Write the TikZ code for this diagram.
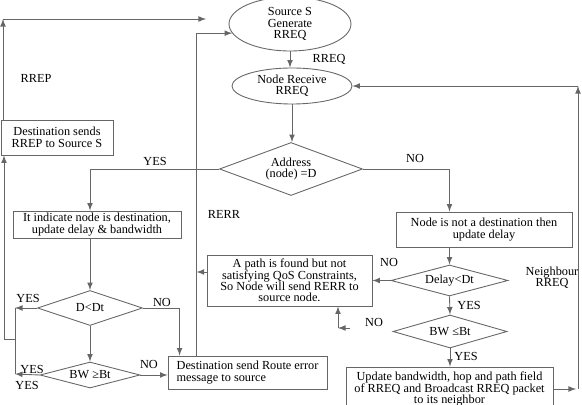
\documentclass[tikz,border=0pt]{standalone}
\usepackage{fontspec}
\setmainfont{Liberation Serif}
\usetikzlibrary{calc,arrows,shapes,positioning}

\begin{document}
\begin{tikzpicture}[x=0.02cm,y=-0.02cm]
\tikzstyle{ln}=[draw=black!60, line width=0.5pt]
\tikzstyle{arr}=[ln, -latex]
\tikzstyle{box}=[ln, rectangle, inner sep=0pt, align=center, font=\fontsize{7}{6.5}\selectfont]
\tikzstyle{ell}=[box, ellipse]
\tikzstyle{dmd}=[box, diamond]
\tikzstyle{lbl}=[inner sep=0pt, font=\fontsize{7}{6.5}\selectfont]

\useasboundingbox (0,0) rectangle (582,405);

% main column
\node[ell, minimum width=2.44cm, minimum height=1.08cm] (S) at (290,24) {Source S\\Generate\\RREQ};
\node[ell, minimum width=2.4cm, minimum height=0.72cm] (R) at (292,86) {Node Receive\\RREQ};
\node[dmd, shape aspect=2.7, minimum width=2.86cm, minimum height=1.06cm] (A) at (291,169) {Address\\(node) =D};

% left branch
\node[box, minimum width=3.36cm, minimum height=0.54cm] (D) at (97,224.5) {It indicate node is destination,\\update delay \& bandwidth};
\node[dmd, shape aspect=3, minimum width=2.1cm, minimum height=0.7cm] (DT) at (90,308) {D<Dt};
\node[dmd, shape aspect=3.8, minimum width=2.0cm, minimum height=0.52cm] (BG) at (90,375) {BW ≥Bt};
\node[box, align=left, minimum width=3.18cm, minimum height=0.66cm] (E) at (247.5,372.5) {Destination send Route error\\message to source};
\node[box, minimum width=2.24cm, minimum height=0.7cm] (P) at (57,137.5) {Destination sends\\RREP to Source S};

% right branch
\node[box, minimum width=3.52cm, minimum height=0.7cm] (N) at (484,229.5) {Node is not a destination then\\update delay};
\node[dmd, shape aspect=3.8, minimum width=2.34cm, minimum height=0.62cm] (DL) at (449.5,280.5) {Delay<Dt};
\node[box, minimum width=3.3cm, minimum height=1.02cm] (Q) at (289.5,280.5) {A path is found but not\\satisfying QoS Constraints,\\So Node will send RERR to\\source node.};
\node[dmd, shape aspect=3.5, minimum width=2.28cm, minimum height=0.66cm] (BL) at (450,331.5) {BW ≤Bt};
\node[box, minimum width=4.14cm, minimum height=0.88cm] (U) at (449.5,389) {Update bandwidth, hop and path field\\of RREQ and Broadcast RREQ packet\\to its neighbor};

% corners
\coordinate (t1) at (3,19);
\coordinate (t2) at (206,19);
\coordinate (j1) at (15,308);
\coordinate (j2) at (15,374);
\coordinate (j3) at (15,339);
\coordinate (j4) at (4,339);
\coordinate (n1) at (350,328);
\coordinate (n2) at (338,328);
\coordinate (m1) at (576,389);
\coordinate (m2) at (578,86);
\coordinate (rx) at ([xshift=0.58cm]E.north west);

\draw[arr] (S.south) -- (S.south |- R.north);
\draw[arr] (R.south) -- (R.south |- A.north);
\draw[arr] (A.west) -| (DT.north |- D.north);
\draw[arr] (A.east) -| (DL.north |- N.north);
\draw[arr] (DT.north |- D.south) -- (DT.north);
\draw[arr] (DL.north |- N.south) -- (DL.north);
\draw[arr] (DT.south) -- (BG.north);
\draw[arr] (DT.west) -- (j1);
\draw[arr] (BG.west) -- (j2);
\draw[ln] (j1) -- (j2);
\draw[arr] (j3) -- (j4) -- (j4 |- P.south);
\draw[arr] (t1 |- P.north) -- (t1);
\draw[arr] (t1) -- (t2);
\draw[arr] (DT.east) -| ([xshift=0.24cm]E.north west);
\draw[arr] (BG.east) -- (BG.east -| E.west);
\draw[arr] (rx) |- (S.189);
\draw[arr] ([yshift=0.17cm]Q.west) -- ([yshift=0.17cm]Q.west -| rx);
\draw[arr] (DL.west) -- (Q.east);
\draw[arr] (DL.south) -- (BL.north);
\draw[arr] (n1) -- (n2);
\draw[arr] (n2) -- (n2 |- Q.south);
\draw[arr] (BL.south) -- (BL.south |- U.north);
\draw[arr] (U.east |- m1) -- (m1);
\draw[arr] (m2 |- m1) -- (m2);
\draw[arr] (m2) -- (R.east);

% labels
\node[lbl] (l1) at (329,59) {RREQ};
\node[lbl] (l2) at (155,161) {YES};
\node[lbl] (l3) at (415,158) {NO};
\node[lbl] (l4) at (36,78) {RREP};
\node[lbl] (l5) at (224,214) {RERR};
\node[lbl] (l6) at (28,298) {YES};
\node[lbl] (l7) at (162,302) {NO};
\node[lbl] (l8) at (32,369) {YES};
\node[lbl] (l9) at (27,385) {YES};
\node[lbl] (l10) at (149,364) {NO};
\node[lbl] (l11) at (389,262) {NO};
\node[lbl] (l12) at (469,305) {YES};
\node[lbl] (l13) at (374,322) {NO};
\node[lbl] (l14) at (466,356) {YES};
\node[lbl, align=center] (l15) at (552,278) {Neighbour\\RREQ};
\end{tikzpicture}
\end{document}
